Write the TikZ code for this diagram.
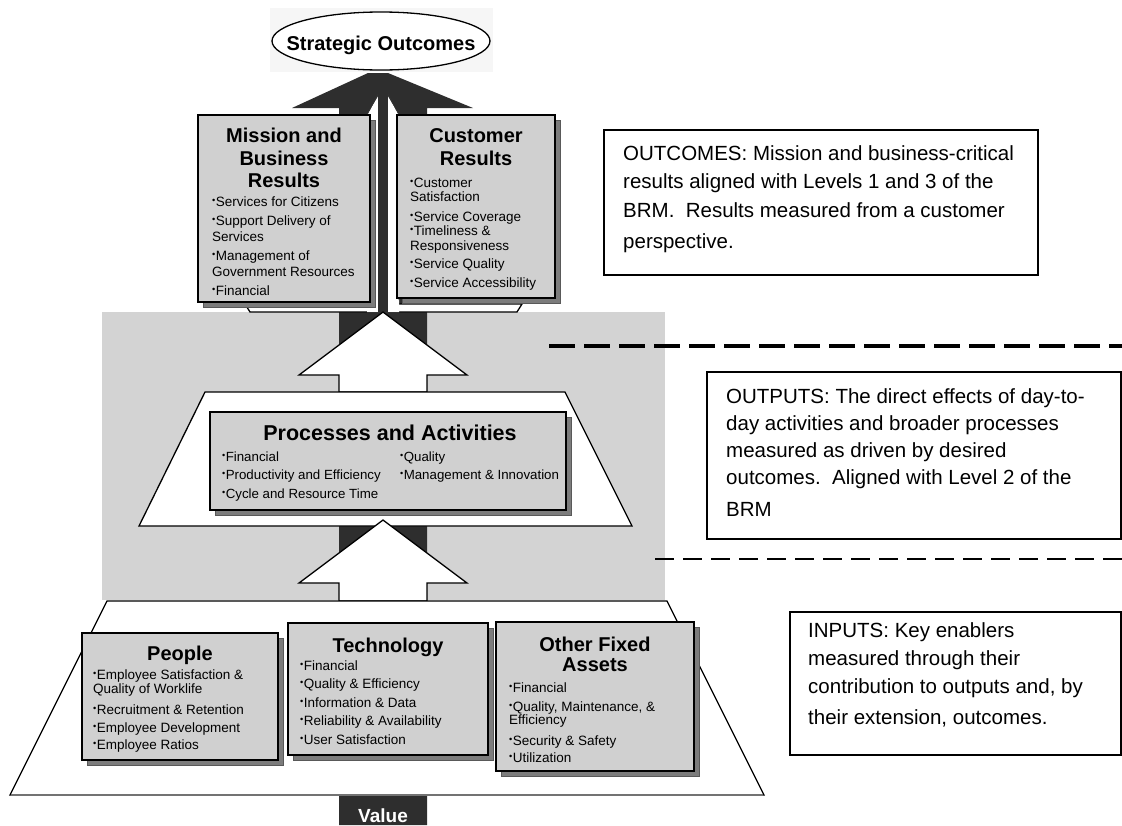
\documentclass[tikz,border=0pt]{standalone}
\usepackage{fontspec}
\setmainfont{Liberation Sans}
\usetikzlibrary{shapes.geometric,shadows}
\definecolor{dk}{HTML}{2E2E2E}
\definecolor{boxfill}{HTML}{D0D0D0}
\definecolor{region}{HTML}{D3D3D3}
\definecolor{shad}{HTML}{7C7C7C}
\newcommand\bu{\raisebox{0.42ex}{\scalebox{0.68}{\textbullet}}\hspace{0.4pt}}
\begin{document}
\begin{tikzpicture}[x=1pt,y=-1pt,line join=miter,
  card/.style={draw=black, line width=1.2pt, fill=boxfill, inner sep=0pt, outer sep=0pt, anchor=north west,
    drop shadow={shadow xshift=5pt, shadow yshift=-5pt, fill=shad, draw=black!65, line width=0.8pt, opacity=1}},
  dbox/.style={draw=black, line width=1.3pt, fill=white, inner sep=0pt, outer sep=0pt, anchor=north west},
  platform/.style={draw=black, line width=1.3pt, fill=white},
  uparrow/.style={draw=black, line width=1.3pt, fill=white},
  ttl/.style={font=\fontsize{20}{22}\selectfont\bfseries, inner sep=0pt, anchor=base},
  lst/.style={inner sep=0pt, anchor=base west, font=\fontsize{13.5}{15.5}\selectfont},
  dsc/.style={inner sep=0pt, anchor=base west, font=\fontsize{20.5}{28}\selectfont}]
\useasboundingbox (0,0) rectangle (1122,825);
% faint backdrop of the ellipse
\fill[gray!7] (270,8) rectangle (493,72);
% grey output band
\fill[region] (102,312) rectangle (665,600);
% big dark value arrow
\fill[dk] (339,825) -- (339,108) -- (292,108) -- (368,73) -- (388,73) -- (473,108) -- (427,108) -- (427,825) -- cycle;
% top platform
\draw[platform] (245,304) -- (522,304) -- (517,312) -- (250,312) -- cycle;
% white slivers and central stem between top boxes
\fill[white] (367,312) -- (367,115) -- (383,88) -- (399,115) -- (399,312) -- cycle;
\draw[black!80, line width=0.7pt] (367,300) -- (367,115) -- (378,94);
\draw[black!80, line width=0.7pt] (399,300) -- (399,115) -- (388,94);
\fill[dk] (378,80) rectangle (388,312);
% top boxes
\node[card, minimum width=172pt, minimum height=187pt] (mission) at (198,115) {};
\node[card, minimum width=158pt, minimum height=183pt] (customer) at (397,115) {};
\node[ttl] (mt1) at (284,142) {Mission and};
\node[ttl] (mt2) at (284,165) {Business};
\node[ttl] (mt3) at (284,187) {Results};
\node[ttl] (ct1) at (476,142) {Customer};
\node[ttl] (ct2) at (476,165) {Results};
\node[lst] (mlist) at (212,206) {\parbox[t]{165pt}{\raggedright
  \bu Services for Citizens\\[4pt]
  \bu Support Delivery of\\
  Services\\[4pt]
  \bu Management of\\
  Government Resources\\[4pt]
  \bu Financial}};
\node[lst, font=\fontsize{13.5}{14.5}\selectfont] (clist) at (410,187) {\parbox[t]{150pt}{\raggedright
  \bu Customer\\
  Satisfaction\\[5pt]
  \bu Service Coverage\\
  \bu Timeliness \&\\
  Responsiveness\\[4pt]
  \bu Service Quality\\[4pt]
  \bu Service Accessibility}};
% upper white arrow
\draw[uparrow] (339,392) -- (339,375) -- (299,375) -- (383,312) -- (467,375) -- (427,375) -- (427,392) -- cycle;
% processes platform
\draw[platform] (205,392) -- (565,392) -- (632,526) -- (139,526) -- cycle;
\node[card, minimum width=356pt, minimum height=98pt] (proc) at (210,412) {};
\node[ttl, font=\fontsize{21.5}{23}\selectfont\bfseries] (pt) at (390,440) {Processes and Activities};
\node[lst, font=\fontsize{13.3}{18.5}\selectfont] (plist1) at (222,461) {\parbox[t]{175pt}{\raggedright
  \bu Financial\\
  \bu Productivity and Efficiency\\
  \bu Cycle and Resource Time}};
\node[lst, font=\fontsize{13.3}{18.5}\selectfont] (plist2) at (400,461) {\parbox[t]{165pt}{\raggedright
  \bu Quality\\
  \bu Management \& Innovation}};
% lower white arrow
\draw[uparrow] (339,601) -- (339,583) -- (299,583) -- (383,520) -- (467,583) -- (427,583) -- (427,601) -- cycle;
% input platform
\draw[platform] (107,601) -- (667,601) -- (764,795) -- (10,795) -- cycle;
\draw[black!55, line width=2.2pt] (11,795) -- (763,795);
\node[card, minimum width=196pt, minimum height=127pt] (people) at (82,633) {};
\node[card, minimum width=200pt, minimum height=132pt] (tech) at (288,623) {};
\node[card, minimum width=198pt, minimum height=149pt] (other) at (496,622) {};
\node[ttl] (pet) at (180,660) {People};
\node[ttl] (tet) at (388,652) {Technology};
\node[ttl] (ot1) at (595,651) {Other Fixed};
\node[ttl] (ot2) at (595,671) {Assets};
\node[lst, font=\fontsize{13.5}{14}\selectfont] (pelist) at (93,679) {\parbox[t]{180pt}{\raggedright
  \bu Employee Satisfaction \&\\
  Quality of Worklife\\[7.5pt]
  \bu Recruitment \& Retention\\[3.5pt]
  \bu Employee Development\\[3.5pt]
  \bu Employee Ratios}};
\node[lst, font=\fontsize{13.5}{18.5}\selectfont] (telist) at (300,670) {\parbox[t]{180pt}{\raggedright
  \bu Financial\\
  \bu Quality \& Efficiency\\
  \bu Information \& Data\\
  \bu Reliability \& Availability\\
  \bu User Satisfaction}};
\node[lst, font=\fontsize{13.5}{13.5}\selectfont] (otlist) at (509,692) {\parbox[t]{180pt}{\raggedright
  \bu Financial\\[5.5pt]
  \bu Quality, Maintenance, \&\\
  Efficiency\\[7pt]
  \bu Security \& Safety\\[3.5pt]
  \bu Utilization}};
% strategic outcomes
\node[draw=black, line width=1.3pt, fill=white, ellipse, minimum width=218pt, minimum height=58pt, inner sep=0pt] (so) at (381,41) {};
\node[ttl] (sotext) at (381,50) {Strategic Outcomes};
% value label
\node[inner sep=0pt, anchor=base, text=white, font=\fontsize{19}{20}\selectfont\bfseries] (value) at (383,822) {Value};
% level separators
\draw[line width=4pt, dash pattern=on 26pt off 9pt] (549,346) -- (1122,346);
\draw[line width=2pt, dash pattern=on 19pt off 9pt] (655,559) -- (1122,559);
% descriptions
\node[dbox, minimum width=434pt, minimum height=145pt] (outcomes) at (604,130) {};
\node[dsc, font=\fontsize{20.5}{28.5}\selectfont] (outtext) at (623,160) {\parbox[t]{400pt}{\raggedright
  OUTCOMES: Mission and business-critical\\
  results aligned with Levels 1 and 3 of the\\
  BRM.\ \ Results measured from a customer\\[2.5pt]
  perspective.}};
\node[dbox, minimum width=414pt, minimum height=167pt] (outputs) at (707,372) {};
\node[dsc, font=\fontsize{20.5}{27.3}\selectfont] (optext) at (726,403) {\parbox[t]{390pt}{\raggedright
  OUTPUTS: The direct effects of day-to-\\
  day activities and broader processes\\
  measured as driven by desired\\
  outcomes.\ \ Aligned with Level 2 of the\\[4.5pt]
  BRM}};
\node[dbox, minimum width=331pt, minimum height=143pt] (inputs) at (790,612) {};
\node[dsc, font=\fontsize{20.5}{28}\selectfont] (intext) at (808,637) {\parbox[t]{310pt}{\raggedright
  INPUTS: Key enablers\\
  measured through their\\
  contribution to outputs and, by\\[3pt]
  their extension, outcomes.}};
\end{tikzpicture}
\end{document}
